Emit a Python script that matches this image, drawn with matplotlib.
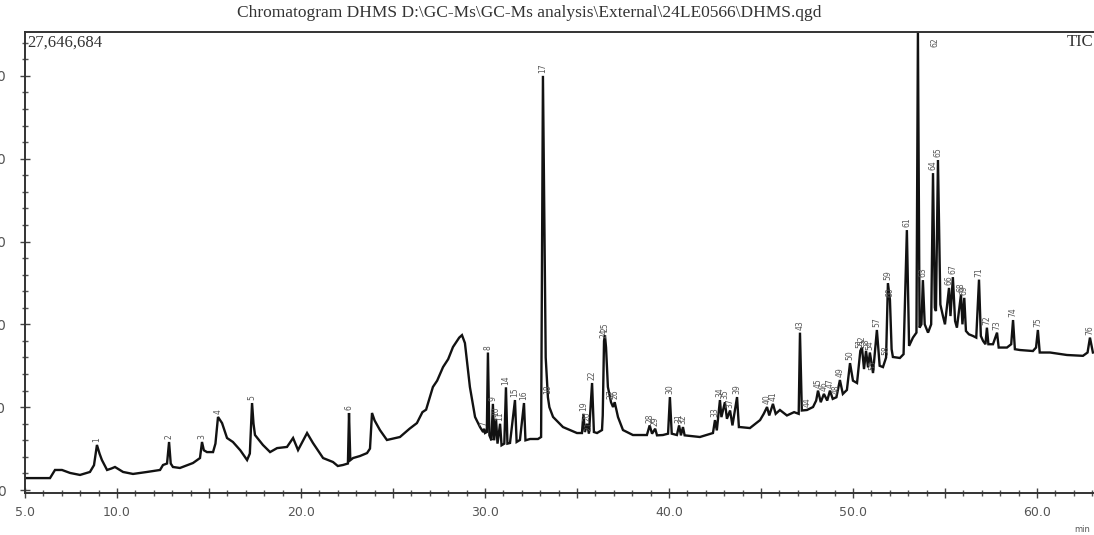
import matplotlib
matplotlib.use("Agg")
import matplotlib.pyplot as plt
from matplotlib.ticker import MultipleLocator, FixedLocator, FuncFormatter

# ---------------- data (retention time in min, intensity in millions of counts) ----------------
rt = [5.00, 6.36, 6.63, 7.01, 7.45, 7.99, 8.53, 8.75, 8.91, 9.05, 9.18, 9.46, 9.70, 9.89,
      10.33, 10.87, 11.63, 12.34, 12.50, 12.72, 12.83, 12.92, 13.04, 13.42, 14.13, 14.51,
      14.62, 14.72, 14.89, 15.22, 15.35, 15.49, 15.71, 15.98, 16.30, 16.70, 17.07, 17.22,
      17.34, 17.42, 17.50, 17.93, 18.32, 18.70, 19.24, 19.57, 19.84, 20.33, 20.65, 21.20,
      21.74, 22.00, 22.28, 22.55, 22.61, 22.68, 22.83, 23.20, 23.59, 23.75, 23.86, 24.00, 24.29,
      24.67, 25.38, 25.90, 26.30, 26.60, 26.80, 27.17, 27.40, 27.72, 28.00, 28.26, 28.60, 28.75,
      28.91, 29.18, 29.46, 29.73,
      29.90, 29.95, 30.00, 30.10, 30.16, 30.24, 30.35, 30.43, 30.50, 30.60, 30.68, 30.82,
      30.90, 31.05, 31.14, 31.22, 31.36, 31.63, 31.72, 31.90, 32.12, 32.20, 32.45, 32.88,
      33.05, 33.15, 33.30, 33.42, 33.50, 33.70, 34.24, 35.00, 35.27, 35.35, 35.43, 35.55,
      35.65, 35.82, 35.92, 36.09, 36.36, 36.40, 36.47, 36.52, 36.58, 36.68, 36.85, 36.96,
      37.05, 37.23, 37.50, 38.04, 38.80, 38.95, 39.08, 39.25, 39.35, 39.67, 39.95, 40.05,
      40.15, 40.43, 40.55, 40.65, 40.76, 40.85, 41.68, 42.39, 42.50, 42.60, 42.77, 42.85,
      43.04, 43.15, 43.32, 43.45, 43.70, 43.80, 43.86, 44.40, 44.95, 45.15, 45.33, 45.45,
      45.65, 45.80, 46.03, 46.41, 46.80, 47.05, 47.12, 47.22, 47.50, 47.83, 48.00, 48.10,
      48.25, 48.42, 48.60, 48.75, 48.90, 49.10, 49.29, 49.45, 49.67, 49.84, 50.00, 50.22,
      50.40, 50.49, 50.60, 50.71, 50.82, 50.92, 51.09, 51.30, 51.45, 51.63, 51.80, 51.90,
      52.01, 52.10, 52.17, 52.55, 52.75, 52.93, 53.05, 53.26, 53.45, 53.53, 53.62, 53.72,
      53.80, 53.90, 54.08, 54.25, 54.35, 54.45, 54.51, 54.62, 54.75, 54.89, 55.00, 55.22,
      55.30, 55.43, 55.55, 55.65, 55.87, 55.95, 56.05, 56.14, 56.30, 56.52, 56.70, 56.85,
      56.95, 57.07, 57.20, 57.28, 57.36, 57.61, 57.83, 57.92, 58.37, 58.60, 58.70, 58.80,
      59.08, 59.78, 59.95, 60.05, 60.15, 60.71, 61.63, 62.50, 62.75, 62.88, 63.04]

intensity = [0.72, 0.72, 1.21, 1.21, 1.03, 0.91, 1.09, 1.50, 2.72, 2.20, 1.81, 1.21, 1.30, 1.39,
             1.09, 0.97, 1.09, 1.21, 1.51, 1.60, 2.90, 1.60, 1.39, 1.33, 1.63, 1.93,
             2.90, 2.40, 2.29, 2.29, 2.80, 4.41, 4.04, 3.14, 2.90, 2.40, 1.81, 2.20,
             5.25, 4.00, 3.32, 2.72, 2.29, 2.53, 2.60, 3.14, 2.41, 3.44, 2.84, 1.93,
             1.69, 1.45, 1.51, 1.60, 4.65, 1.80, 1.93, 2.05, 2.23, 2.50, 4.65, 4.20, 3.62,
             3.02, 3.20, 3.70, 4.04, 4.70, 4.85, 6.22, 6.60, 7.42, 7.90, 8.63, 9.20, 9.35,
             8.87, 6.22, 4.41, 3.80,
             3.50, 3.70, 3.44, 3.50, 8.30, 3.30, 3.00, 5.20, 3.00, 4.30, 2.80, 4.00,
             2.70, 2.80, 6.20, 2.80, 2.84, 5.43, 2.90, 3.02, 5.25, 3.00, 3.08, 3.08,
             3.20, 25.00, 8.00, 5.60, 5.00, 4.41, 3.80, 3.44, 3.44, 4.60, 3.50, 4.00,
             3.40, 6.46, 3.50, 3.44, 3.62, 4.50, 9.00, 9.35, 8.60, 6.22, 5.30, 5.01,
             5.30, 4.40, 3.62, 3.32, 3.32, 3.90, 3.40, 3.70, 3.30, 3.32, 3.40, 5.61,
             3.40, 3.32, 3.90, 3.30, 3.80, 3.30, 3.20, 3.44, 4.22, 3.60, 5.43, 4.40,
             5.30, 4.30, 4.80, 3.90, 5.61, 3.80, 3.80, 3.74, 4.22, 4.60, 5.01, 4.50,
             5.20, 4.60, 4.83, 4.50, 4.70, 4.60, 9.50, 4.80, 4.83, 5.01, 5.40, 6.00,
             5.30, 5.80, 5.40, 6.00, 5.50, 5.60, 6.64, 5.80, 6.04, 7.66, 6.60, 6.46,
             8.40, 8.60, 7.30, 8.40, 7.40, 8.30, 7.06, 9.66, 7.50, 7.42, 8.00, 12.49,
             11.47, 8.50, 8.03, 7.97, 8.20, 15.69, 8.70, 9.20, 9.50, 27.646684, 9.80, 10.00,
             12.67, 10.00, 9.50, 10.00, 19.13, 11.00, 10.80, 19.92, 11.20, 10.50, 10.00, 12.20,
             10.50, 12.85, 10.20, 9.80, 11.80, 10.00, 11.60, 9.60, 9.40, 9.30, 9.20, 12.70,
             9.30, 9.00, 8.80, 9.80, 8.80, 8.80, 9.50, 8.60, 8.60, 8.80, 10.26, 8.50,
             8.45, 8.39, 8.60, 9.66, 8.30, 8.30, 8.15, 8.10, 8.30, 9.20, 8.30]

peak_ids = [1, 2, 3, 4, 5, 6, 7, 8, 9, 10, 11, 14, 15, 16, 17, 18, 19, 20, 21, 22, 24, 25, 26, 27,
            28, 29, 30, 31, 32, 33, 34, 35, 37, 39, 40, 41, 43, 44, 45, 46, 47, 48, 49, 50,
            51, 52, 53, 54, 55, 57, 58, 59, 60, 61, 62, 63, 64, 65, 66, 67, 68, 69, 71, 72,
            73, 74, 75, 76]
peak_rt = [8.91, 12.83, 14.62, 15.49, 17.34, 22.61, 29.95, 30.16, 30.43, 30.60, 30.82, 31.14,
           31.63, 32.12, 33.15, 33.42, 35.35, 35.55, 35.65, 35.82, 36.47, 36.52, 37.05, 36.85,
           38.95, 39.25, 40.05, 40.55, 40.76, 42.50, 42.77, 43.04, 43.32, 43.70, 45.33, 45.65,
           47.12, 47.50, 48.10, 48.42, 48.75, 49.10, 49.29, 49.84, 50.40, 50.49, 50.71, 50.92,
           51.09, 51.30, 51.80, 51.90, 52.01, 52.93, 54.45, 53.80, 54.35, 54.62, 55.22, 55.43,
           55.87, 56.05, 56.85, 57.28, 57.83, 58.70, 60.05, 62.88]
peak_top = [2.72, 2.90, 2.90, 4.41, 5.25, 4.65, 3.70, 8.30, 5.20, 4.30, 4.00, 6.20,
            5.43, 5.25, 25.00, 5.60, 4.60, 4.00, 3.40, 6.46, 9.00, 9.35, 5.30, 5.30,
            3.90, 3.70, 5.61, 3.90, 3.80, 4.22, 5.43, 5.30, 4.80, 5.61, 5.01, 5.20,
            9.50, 4.83, 6.00, 5.80, 6.00, 5.60, 6.64, 7.66, 8.40, 8.60, 8.40, 8.30,
            7.06, 9.66, 8.00, 12.49, 11.47, 15.69, 26.6, 12.67, 19.13, 19.92, 12.20, 12.85,
            11.80, 11.60, 12.70, 9.80, 9.50, 10.26, 9.66, 9.20]

y_major = [0, 5, 10, 15, 20, 25]
x_labelled = [5.0, 10.0, 20.0, 30.0, 40.0, 50.0, 60.0]

title_text = r"Chromatogram DHMS D:\GC-Ms\GC-Ms analysis\External\24LE0566\DHMS.qgd"
max_text = "27,646,684"

# ---------------- figure ----------------
W, H = 1094, 535
fig = plt.figure(figsize=(W / 100, H / 100), dpi=100)
ax = fig.add_axes([25 / W, (H - 493) / H, 1 - 25 / W, (493 - 32) / H])

ax.plot(rt, intensity, color="#121212", lw=1.7, solid_joinstyle="miter", clip_on=True)

ax.set_xlim(5.0, 63.1)
ax.set_ylim(-0.18, 27.646684)

for s in ["left", "bottom", "top"]:
    ax.spines[s].set_color("#333333")
    ax.spines[s].set_linewidth(1.4)
ax.spines["right"].set_visible(False)

ax.xaxis.set_major_locator(MultipleLocator(5))
ax.xaxis.set_minor_locator(MultipleLocator(1))
ax.xaxis.set_major_formatter(FuncFormatter(
    lambda v, p: (f"{v:.1f}" if any(abs(v - t) < 1e-6 for t in x_labelled) else "")))
ax.yaxis.set_major_locator(FixedLocator(y_major))
ax.yaxis.set_minor_locator(MultipleLocator(1))
ax.yaxis.set_major_formatter(FuncFormatter(lambda v, p: f"{int(round(v * 1e6)):,}"))

ax.tick_params(axis="both", which="major", direction="inout", length=7, width=1.0,
               color="#444444", labelcolor="#555555")
ax.tick_params(axis="both", which="minor", direction="inout", length=4, width=1.0,
               color="#555555")
ax.tick_params(axis="x", which="major", pad=6, labelsize=9)
ax.tick_params(axis="y", which="major", pad=10, labelsize=10)
ax.tick_params(top=False, right=False, which="both")

for lab in ax.get_xticklabels() + ax.get_yticklabels():
    lab.set_fontfamily("DejaVu Sans")

# peak labels
for pid, t, v in zip(peak_ids, peak_rt, peak_top):
    ax.annotate(str(pid), (t, v), xytext=(0, 2), textcoords="offset points",
                rotation=90, ha="center", va="bottom", fontsize=5.5,
                color="#555555", family="DejaVu Sans", clip_on=True)

# texts
fig.text(0.484, 1 - 13 / H, title_text, ha="center", va="center",
         fontsize=12.5, family="Liberation Serif", color="#333333")
ax.text(0.002, 0.978, max_text, transform=ax.transAxes, ha="left", va="center",
        fontsize=12, family="Liberation Serif", color="#333333")
ax.text(0.999, 0.978, "TIC", transform=ax.transAxes, ha="right", va="center",
        fontsize=12, family="Liberation Serif", color="#333333")
fig.text(1082 / W, 1 - 529 / H, "min", ha="center", va="center",
         fontsize=6, family="DejaVu Sans", color="#555555")

fig.savefig("out.png", dpi=100)
